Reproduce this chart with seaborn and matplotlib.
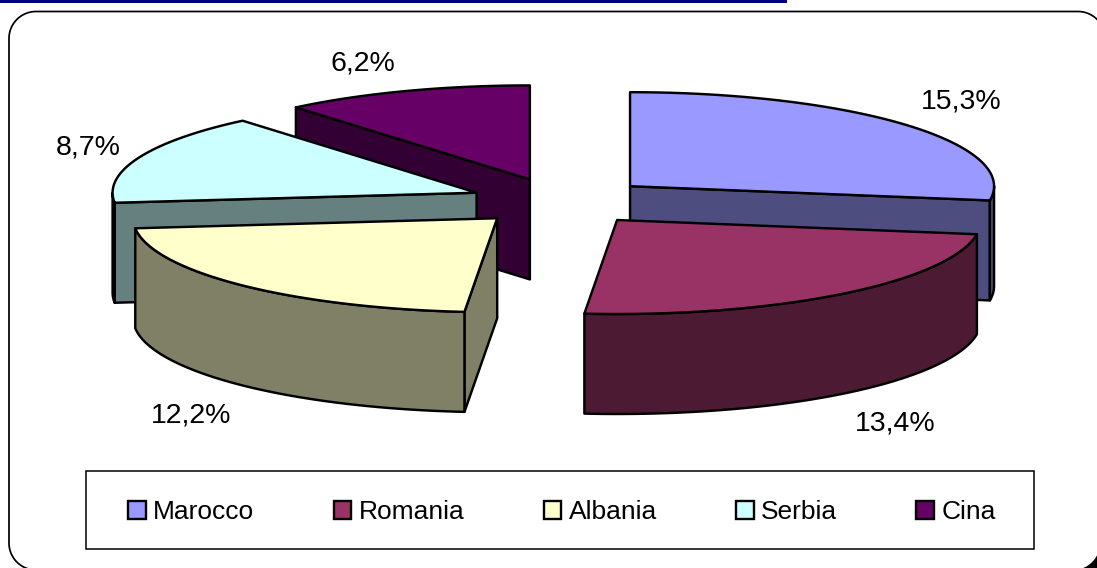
import numpy as np
import seaborn as sns
import matplotlib.pyplot as plt
from matplotlib.patches import Patch, Rectangle

# Foreign residents, share by country
countries = ['Marocco', 'Romania', 'Albania', 'Serbia', 'Cina']
shares = [15.3, 13.4, 12.2, 8.7, 6.2]
share_labels = ['15,3%', '13,4%', '12,2%', '8,7%', '6,2%']
top_colors = ['#9999FF', '#993366', '#FFFFCC', '#CCFFFF', '#660066']
side_colors = ['#4D4D80', '#4D1A33', '#808066', '#668080', '#330033']

# pie geometry, in image pixels
CX, CY = 561, 201.5
RX, RY = 364, 94
DEPTH = 100
EXPLODE = 0.25
LW = 1.75

sns.set_theme(style='white')
plt.rcParams['font.family'] = ['Liberation Sans', 'DejaVu Sans']
plt.rcParams['text.color'] = 'black'

# Point on the rim, angle clockwise from 12 o'clock


def rim(x0, y0, ang):
    return x0 + RX * np.sin(ang), y0 - RY * np.cos(ang)


# Outline of a rounded rectangle


def round_rect(x0, y0, x1, y1, r):
    xs, ys = [], []
    corners = [(x1 - r, y0 + r, 0), (x1 - r, y1 - r, 90),
               (x0 + r, y1 - r, 180), (x0 + r, y0 + r, 270)]
    for cx, cy, a in corners:
        t = np.radians(np.linspace(a, a + 90, 30))
        xs.extend(cx + r * np.sin(t))
        ys.extend(cy - r * np.cos(t))
    return xs, ys


def draw_slice(ax, start, end, top, side):
    mid = (start + end) / 2
    x0 = CX + EXPLODE * RX * np.sin(mid)
    y0 = CY - EXPLODE * RY * np.cos(mid)

    # Cut faces, only the ones turned to the viewer
    for ang, show in ((start, np.sin(start) < 0), (end, np.sin(end) > 0)):
        if show:
            xe, ye = rim(x0, y0, ang)
            ax.fill([x0, xe, xe, x0], [y0, ye, ye + DEPTH, y0 + DEPTH],
                    facecolor=side, edgecolor='black', lw=LW, joinstyle='round')

    # Outer wall, front half of the rim
    lo, hi = max(start, np.pi / 2), min(end, 3 * np.pi / 2)
    if hi > lo:
        t = np.linspace(lo, hi, 120)
        xw, yw = rim(x0, y0, t)
        ax.fill(np.r_[xw, xw[::-1]], np.r_[yw, yw[::-1] + DEPTH],
                facecolor=side, edgecolor='black', lw=LW, joinstyle='round')

    # Top of the slice
    t = np.linspace(start, end, 200)
    xt, yt = rim(x0, y0, t)
    ax.fill(np.r_[x0, xt], np.r_[y0, yt],
            facecolor=top, edgecolor='black', lw=LW, joinstyle='round')


fig = plt.figure(figsize=(10.97, 5.68), dpi=100, facecolor='white')
ax = fig.add_axes([0, 0, 1, 1])
ax.set_xlim(0, 1097)
ax.set_ylim(568, 0)
ax.axis('off')

# Blue rule
ax.fill_between([0, 787], 0, 3, color='#000080', lw=0)

# Black page corner behind the frame, bottom right
ax.add_patch(Rectangle((1060, 530), 40, 40, facecolor='black', edgecolor='none'))
xs, ys = round_rect(9, 11.5, 1100, 570, 27)
ax.fill(xs, ys, facecolor='white', edgecolor='none')
# Rounded chart frame
xs, ys = round_rect(9, 11.5, 1105, 570, 27)
ax.fill(xs, ys, facecolor='none', edgecolor='black', lw=1.25)

edges = np.r_[0, np.cumsum(shares)] / np.sum(shares) * 2 * np.pi

# Back slices first
for i in [4, 3, 0, 2, 1]:
    draw_slice(ax, edges[i], edges[i + 1], top_colors[i], side_colors[i])

# Data labels
label_pos = [(961, 102), (895, 424), (191, 416), (88.5, 148), (363, 64)]
for (x, y), txt in zip(label_pos, share_labels):
    ax.text(x, y, txt, ha='center', va='center', fontsize=20.5, color='black')

# Legend box
ax.add_patch(Rectangle((86, 471), 948, 78, facecolor='white', edgecolor='black',
                       lw=1.1))
handles = [Patch(facecolor=c, edgecolor='black', lw=1.7) for c in top_colors]
leg = ax.legend(handles, countries, ncol=5, loc='center',
                bbox_to_anchor=(562 / 1097, 1 - 512 / 568), fontsize=19,
                frameon=False, handlelength=0.68, handleheight=0.68,
                handletextpad=0.27, columnspacing=3.0, labelcolor='black')

fig.savefig('out.png', dpi=100)
